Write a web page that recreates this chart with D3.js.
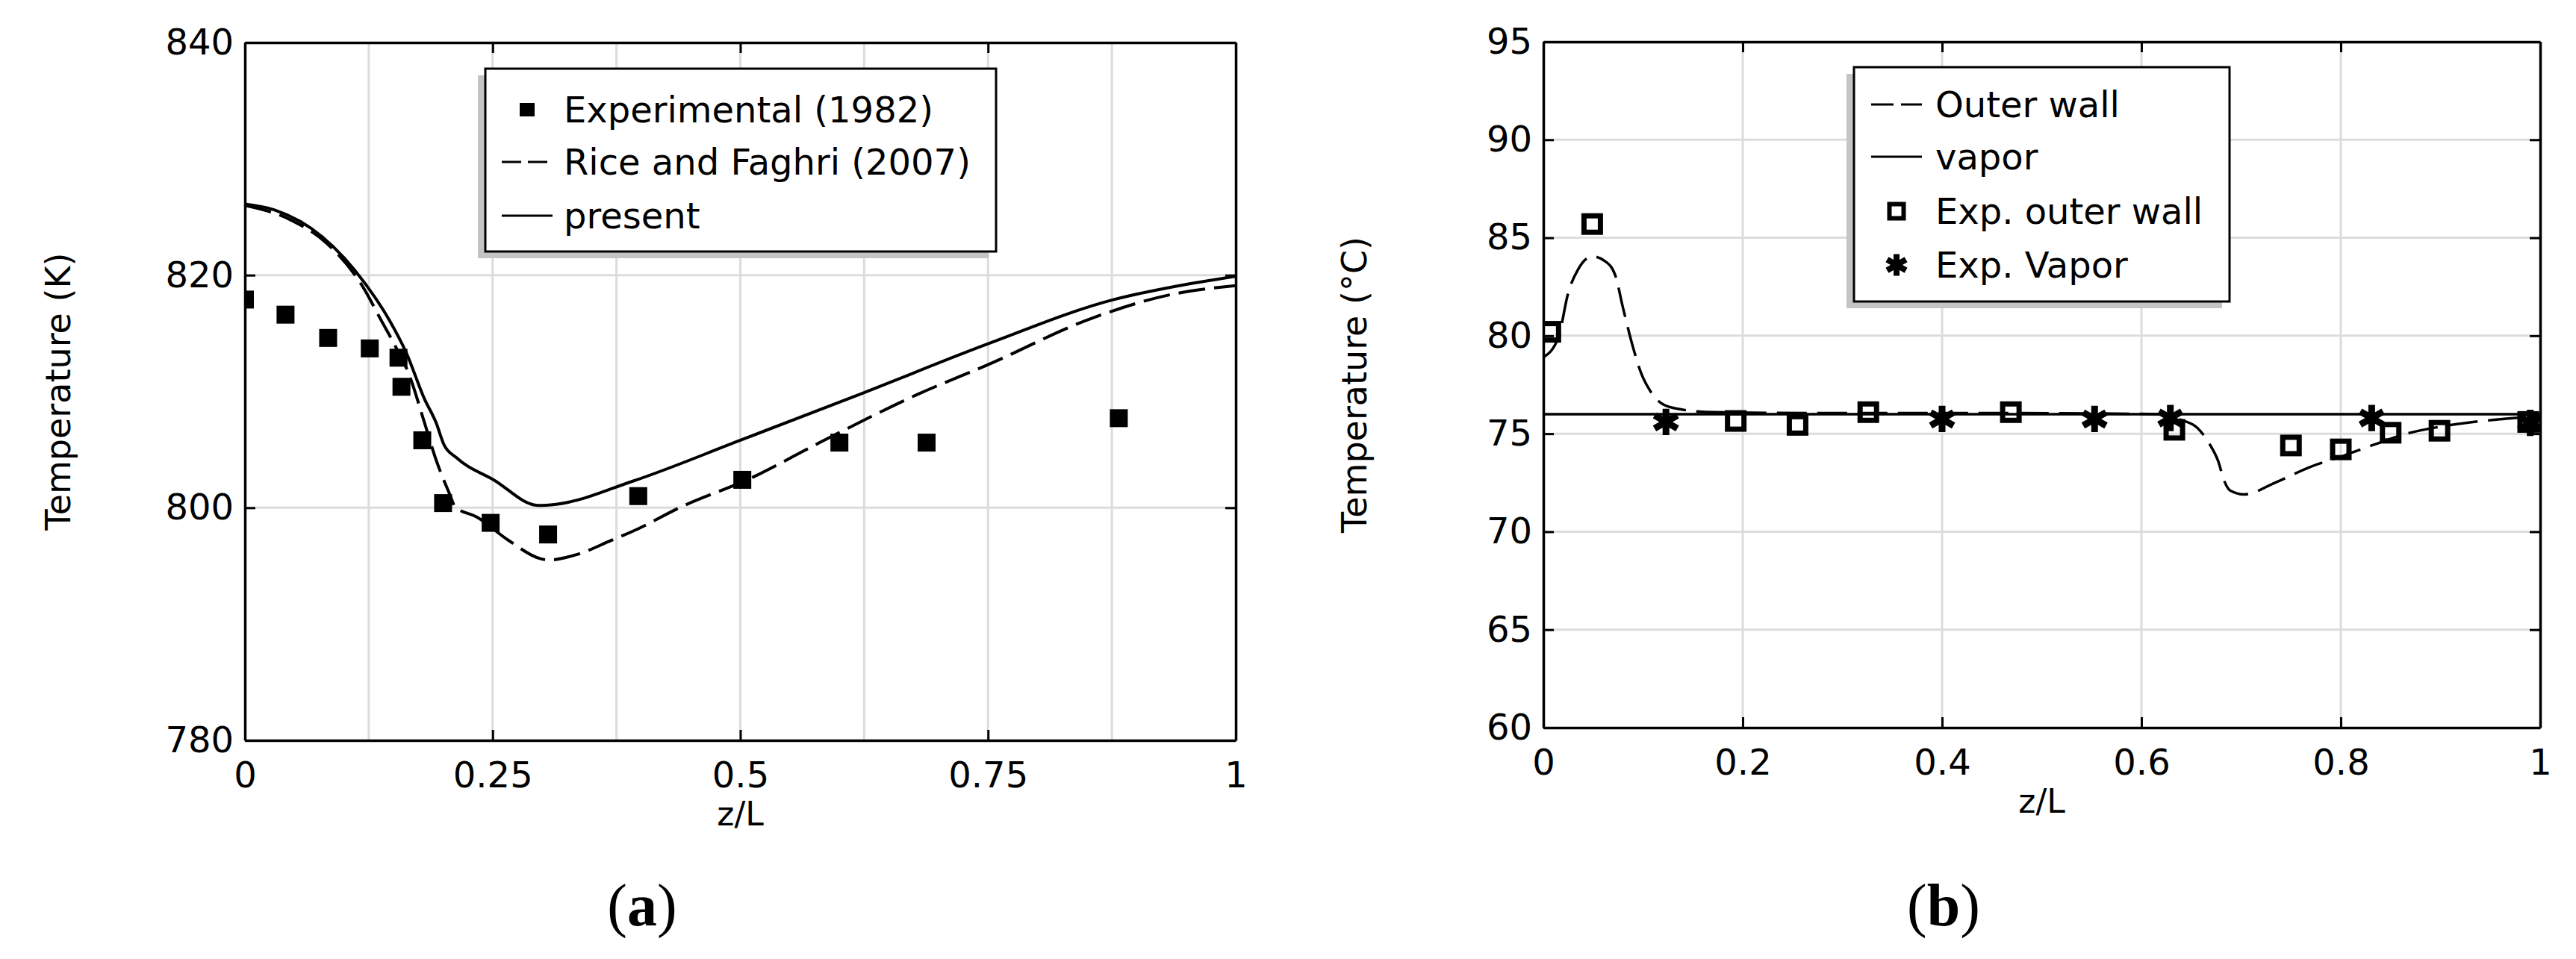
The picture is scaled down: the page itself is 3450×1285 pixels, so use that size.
<!DOCTYPE html>
<html>
<head>
<meta charset="utf-8">
<script src="https://cdn.jsdelivr.net/npm/d3@7"></script>
<style>
  body { margin: 0; background: #fff; }
  svg { display: block; }
  text { font-family: "DejaVu Sans", sans-serif; }
</style>
</head>
<body>
<svg id="chart" width="3450" height="1285"></svg>
<script>
// ---- panel (a) data ----
var expA_z = [0.0, 0.041, 0.084, 0.126, 0.155, 0.158, 0.179, 0.200, 0.248, 0.306, 0.397, 0.502, 0.600, 0.688, 0.882];
var expA_T = [817.9, 816.6, 814.6, 813.7, 812.9, 810.4, 805.8, 800.4, 798.7, 797.7, 801.0, 802.4, 805.6, 805.6, 807.7];
var riceA_z = [0, 0.045, 0.083, 0.119, 0.137, 0.153, 0.165, 0.182, 0.193, 0.207, 0.212, 0.234, 0.266, 0.299, 0.306, 0.334, 0.370, 0.392, 0.441, 0.512, 0.580, 0.679, 0.750, 0.855, 0.933, 1.0];
var riceA_T = [826.0, 824.8, 822.7, 819.0, 816.2, 813.7, 811.6, 807.1, 804.1, 801.1, 800.1, 799.2, 797.2, 795.6, 795.5, 795.95, 797.2, 798.0, 800.1, 802.6, 805.6, 809.75, 812.3, 816.3, 818.3, 819.1];
var presentA_z = [0, 0.03, 0.078, 0.122, 0.146, 0.163, 0.181, 0.193, 0.201, 0.2135, 0.251, 0.296, 0.314, 0.392, 0.5, 0.6235, 0.75, 0.877, 0.94, 1.0];
var presentA_T = [826.1, 825.6, 823.3, 819.2, 816.1, 813.3, 809.4, 807.3, 805.4, 804.3, 802.4, 800.2, 800.3, 802.3, 805.8, 809.85, 814.1, 817.9, 819.05, 819.9];
var ticksA_x = [0, 0.25, 0.5, 0.75, 1];
var gridA_x = [0.125, 0.25, 0.375, 0.5, 0.625, 0.75, 0.875];
var ticksA_y = [780, 800, 820, 840];

// ---- panel (b) data ----
var wallB_z = [0, 0.015, 0.025, 0.035, 0.049, 0.062, 0.072, 0.080, 0.090, 0.098, 0.107, 0.120, 0.137, 0.169, 0.30, 0.45, 0.62, 0.640, 0.656, 0.668, 0.677, 0.683, 0.689, 0.703, 0.734, 0.769, 0.804, 0.831, 0.866, 0.905, 0.952, 1.0];
var wallB_T = [78.9, 79.9, 82.2, 83.4, 84.05, 83.8, 83.1, 81.4, 79.4, 78.1, 77.2, 76.5, 76.25, 76.1, 76.05, 76.05, 76.0, 75.7, 75.3, 74.5, 73.6, 72.6, 72.1, 71.9, 72.5, 73.3, 73.9, 74.4, 75.0, 75.4, 75.7, 75.9];
var vaporB_z = [0, 1];
var vaporB_T = [76, 76];
var expWallB_z = [0.007, 0.049, 0.193, 0.255, 0.326, 0.469, 0.633, 0.750, 0.800, 0.850, 0.899, 0.988];
var expWallB_T = [80.2, 85.7, 75.65, 75.45, 76.1, 76.1, 75.2, 74.4, 74.2, 75.05, 75.15, 75.6];
var expVapB_z = [0.123, 0.400, 0.553, 0.629, 0.831, 0.990];
var expVapB_T = [75.6, 75.75, 75.75, 75.8, 75.8, 75.55];
var ticksB_x = [0, 0.2, 0.4, 0.6, 0.8, 1];
var gridB_x = [0.2, 0.4, 0.6, 0.8];
var ticksB_y = [60, 65, 70, 75, 80, 85, 90, 95];

var svg = d3.select('#chart');
svg.append('rect').attr('width', 3450).attr('height', 1285).attr('fill', '#fff');

function drawPanel(o) {
  var x = d3.scaleLinear().domain([0, 1]).range([o.left, o.right]);
  var y = d3.scaleLinear().domain(o.yDomain).range([o.bottom, o.top]);
  var g = svg.append('g');

  // grid
  g.selectAll(null).data(o.gridX).join('line')
    .attr('x1', d => x(d)).attr('x2', d => x(d))
    .attr('y1', o.top).attr('y2', o.bottom)
    .attr('stroke', '#dcdcdc').attr('stroke-width', 3);
  g.selectAll(null).data(o.ticksY.slice(1, -1)).join('line')
    .attr('x1', o.left).attr('x2', o.right)
    .attr('y1', d => y(d)).attr('y2', d => y(d))
    .attr('stroke', '#dcdcdc').attr('stroke-width', 3);

  // axes, ticks pointing inwards
  function styleAxis(a) {
    a.attr('font-size', 48).attr('font-family', '"DejaVu Sans", sans-serif');
    a.select('.domain').attr('stroke-width', 3.5);
    a.selectAll('.tick line').attr('stroke-width', 3);
  }
  g.append('g').attr('transform', `translate(0,${o.bottom})`)
    .call(d3.axisBottom(x).tickValues(o.ticksX).tickSizeInner(-14).tickSizeOuter(0).tickPadding(29).tickFormat(String))
    .call(styleAxis);
  g.append('g').attr('transform', `translate(0,${o.top})`)
    .call(d3.axisTop(x).tickValues(o.ticksX).tickSizeInner(-14).tickSizeOuter(0).tickFormat(''))
    .call(styleAxis);
  g.append('g').attr('transform', `translate(${o.left},0)`)
    .call(d3.axisLeft(y).tickValues(o.ticksY).tickSizeInner(-14).tickSizeOuter(0).tickPadding(15).tickFormat(String))
    .call(styleAxis);
  g.append('g').attr('transform', `translate(${o.right},0)`)
    .call(d3.axisRight(y).tickValues(o.ticksY).tickSizeInner(-14).tickSizeOuter(0).tickFormat(''))
    .call(styleAxis);

  // axis titles
  g.append('text').attr('x', (o.left + o.right) / 2).attr('y', o.bottom + 114)
    .attr('text-anchor', 'middle').attr('font-size', 44).text('z/L');
  g.append('text')
    .attr('transform', `translate(${o.yTitleX},${(o.top + o.bottom) / 2}) rotate(-90)`)
    .attr('text-anchor', 'middle').attr('font-size', 46).text(o.yTitle);

  // panel label
  var lab = g.append('text').attr('x', o.labelX).attr('y', 1240)
    .attr('text-anchor', 'middle').attr('font-size', 80)
    .style('font-family', '"Liberation Serif", serif');
  lab.append('tspan').text('(');
  lab.append('tspan').attr('font-weight', 'bold').text(o.label);
  lab.append('tspan').text(')');

  // clipped data area
  var clipId = 'clip' + o.label;
  svg.append('clipPath').attr('id', clipId).append('rect')
    .attr('x', o.left).attr('y', o.top).attr('width', o.right - o.left).attr('height', o.bottom - o.top);
  var plot = g.append('g').attr('clip-path', `url(#${clipId})`);

  var line = d3.line().x(d => x(d[0])).y(d => y(d[1])).curve(d3.curveMonotoneX);
  o.lines.forEach(function (s) {
    plot.append('path').datum(d3.zip(s.z, s.T)).attr('d', line)
      .attr('fill', 'none').attr('stroke', '#000').attr('stroke-width', s.width)
      .attr('stroke-dasharray', s.dash || null);
  });
  o.points.forEach(function (s) {
    var pts = d3.zip(s.z, s.T);
    if (s.type === 'filled') {
      plot.selectAll(null).data(pts).join('rect')
        .attr('x', d => x(d[0]) - 12).attr('y', d => y(d[1]) - 12)
        .attr('width', 24).attr('height', 24).attr('fill', '#000');
    } else if (s.type === 'open') {
      plot.selectAll(null).data(pts).join('rect')
        .attr('x', d => x(d[0]) - 11).attr('y', d => y(d[1]) - 11)
        .attr('width', 22).attr('height', 22)
        .attr('fill', 'none').attr('stroke', '#000').attr('stroke-width', 7);
    } else {
      plot.selectAll(null).data(pts).join('path')
        .attr('transform', d => `translate(${x(d[0])},${y(d[1])})`)
        .attr('d', d3.symbol(d3.symbolAsterisk, 880))
        .attr('fill', 'none').attr('stroke', '#000').attr('stroke-width', 9);
    }
  });

  // legend
  var L = o.legend;
  var lg = svg.append('g');
  lg.append('rect').attr('x', L.x - 10).attr('y', L.y + 9).attr('width', L.w).attr('height', L.h).attr('fill', '#c4c4c4');
  lg.append('rect').attr('x', L.x).attr('y', L.y).attr('width', L.w).attr('height', L.h)
    .attr('fill', '#fff').attr('stroke', '#000').attr('stroke-width', 3);
  L.items.forEach(function (it, i) {
    var cy = L.rows[i];
    if (it.type === 'line') {
      lg.append('line').attr('x1', L.symX - 34).attr('x2', L.symX + 34).attr('y1', cy).attr('y2', cy)
        .attr('stroke', '#000').attr('stroke-width', 3).attr('stroke-dasharray', it.dash || null);
    } else if (it.type === 'filled') {
      lg.append('rect').attr('x', L.symX - 10).attr('y', cy - 9).attr('width', 20).attr('height', 18).attr('fill', '#000');
    } else if (it.type === 'open') {
      lg.append('rect').attr('x', L.symX - 9.5).attr('y', cy - 9.5).attr('width', 19).attr('height', 19)
        .attr('fill', 'none').attr('stroke', '#000').attr('stroke-width', 6);
    } else {
      lg.append('path').attr('transform', `translate(${L.symX},${cy})`)
        .attr('d', d3.symbol(d3.symbolAsterisk, 600))
        .attr('fill', 'none').attr('stroke', '#000').attr('stroke-width', 8);
    }
    lg.append('text').attr('x', L.textX).attr('y', cy + 17).attr('font-size', 48).text(it.name);
  });
}

drawPanel({
  left: 328, right: 1655, top: 57, bottom: 992,
  yDomain: [780, 840], ticksX: ticksA_x, gridX: gridA_x, ticksY: ticksA_y,
  yTitle: 'Temperature (K)', yTitleX: 94, label: 'a', labelX: 860,
  lines: [
    { z: riceA_z, T: riceA_T, width: 4, dash: '36,12' },
    { z: presentA_z, T: presentA_T, width: 4 }
  ],
  points: [{ z: expA_z, T: expA_T, type: 'filled' }],
  legend: {
    x: 650, y: 92, w: 684, h: 245, symX: 706, textX: 755, rows: [147, 217, 289],
    items: [
      { name: 'Experimental (1982)', type: 'filled' },
      { name: 'Rice and Faghri (2007)', type: 'line', dash: '26,9' },
      { name: 'present', type: 'line' }
    ]
  }
});

drawPanel({
  left: 2067, right: 3402, top: 56, bottom: 975,
  yDomain: [60, 95], ticksX: ticksB_x, gridX: gridB_x, ticksY: ticksB_y,
  yTitle: 'Temperature (°C)', yTitleX: 1830, label: 'b', labelX: 2603,
  lines: [
    { z: vaporB_z, T: vaporB_T, width: 3.5 },
    { z: wallB_z, T: wallB_T, width: 3.5, dash: '40,14' }
  ],
  points: [
    { z: expWallB_z, T: expWallB_T, type: 'open' },
    { z: expVapB_z, T: expVapB_T, type: 'star' }
  ],
  legend: {
    x: 2483, y: 90, w: 503, h: 314, symX: 2540, textX: 2592, rows: [140, 210, 283, 355],
    items: [
      { name: 'Outer wall', type: 'line', dash: '30,10' },
      { name: 'vapor', type: 'line' },
      { name: 'Exp. outer wall', type: 'open' },
      { name: 'Exp. Vapor', type: 'star' }
    ]
  }
});
</script>
</body>
</html>
